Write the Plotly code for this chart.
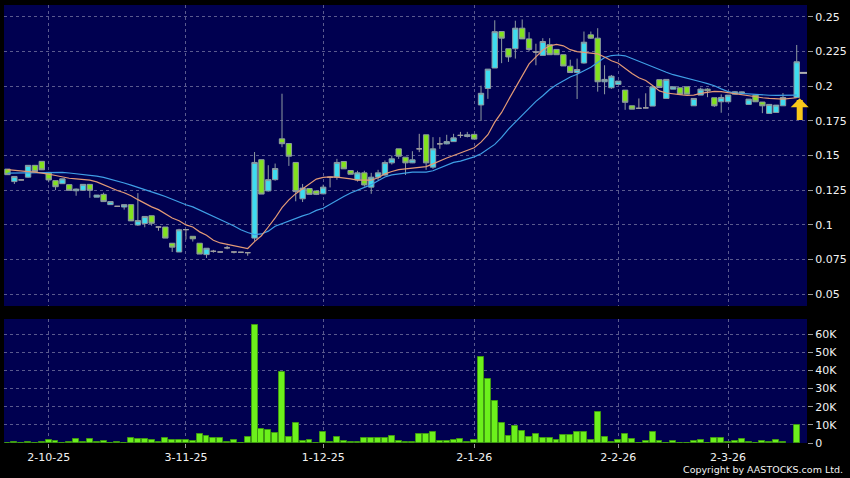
import plotly.graph_objects as go

# ---------------- data ----------------
opens = [0.1402, 0.1312, 0.1324, 0.1344, 0.1429, 0.1458, 0.1378, 0.1319, 0.1297, 0.1290,
         0.1246, 0.1249, 0.1292, 0.1200, 0.1220, 0.1146, 0.1134, 0.1129, 0.1146, 0.0999,
         0.1010, 0.1066, 0.0985, 0.0985, 0.0868, 0.0805, 0.0966, 0.0918, 0.0868, 0.0786,
         0.0810, 0.0805, 0.0835, 0.0805, 0.0803, 0.0800, 0.0905, 0.1470, 0.1245, 0.1326,
         0.1620, 0.1586, 0.1450, 0.1188, 0.1262, 0.1245, 0.1224, 0.1343, 0.1344, 0.1457,
         0.1392, 0.1324, 0.1375, 0.1272, 0.1344, 0.1359, 0.1447, 0.1548, 0.1488, 0.1447,
         0.1548, 0.1649, 0.1416, 0.1584, 0.1584, 0.1600, 0.1645, 0.1637, 0.1652, 0.1864,
         0.1983, 0.2130, 0.2393, 0.2269, 0.2269, 0.2417, 0.2340, 0.2245, 0.2221, 0.2298,
         0.2264, 0.2226, 0.2143, 0.2098, 0.2166, 0.2369, 0.2345, 0.2031, 0.1988, 0.2012,
         0.1971, 0.1858, 0.1840, 0.1843, 0.1856, 0.2046, 0.1911, 0.1978, 0.1988, 0.1995,
         0.1858, 0.1935, 0.1978, 0.1916, 0.1887, 0.1887, 0.1942, 0.1950, 0.1868, 0.1935,
         0.1885, 0.1803, 0.1810, 0.1858, None, 0.1918]
highs = [0.1402, 0.1349, 0.1326, 0.1429, 0.1432, 0.1458, 0.1382, 0.1319, 0.1332, 0.1290,
         0.1262, 0.1292, 0.1292, 0.1215, 0.1232, 0.1168, 0.1136, 0.1146, 0.1146, 0.1229,
         0.1061, 0.1066, 0.0988, 0.0985, 0.0868, 0.0972, 0.0968, 0.0918, 0.0868, 0.0832,
         0.0820, 0.0807, 0.0850, 0.0806, 0.0805, 0.0802, 0.1525, 0.1470, 0.1430, 0.1442,
         0.1945, 0.1586, 0.1450, 0.1295, 0.1265, 0.1245, 0.1290, 0.1345, 0.1476, 0.1457,
         0.1392, 0.1390, 0.1390, 0.1375, 0.1397, 0.1464, 0.1500, 0.1548, 0.1488, 0.1531,
         0.1656, 0.1649, 0.1632, 0.1632, 0.1649, 0.1656, 0.1670, 0.1670, 0.1655, 0.2003,
         0.2122, 0.2474, 0.2393, 0.2269, 0.2471, 0.2480, 0.2388, 0.2305, 0.2345, 0.2345,
         0.2264, 0.2226, 0.2190, 0.2198, 0.2393, 0.2393, 0.2417, 0.2150, 0.2080, 0.2036,
         0.1971, 0.1858, 0.1911, 0.1948, 0.1995, 0.2046, 0.2048, 0.1995, 0.1988, 0.1995,
         0.1911, 0.1988, 0.1985, 0.1916, 0.1940, 0.1935, 0.1963, 0.1960, 0.1906, 0.1935,
         0.1885, 0.1868, 0.1863, 0.1950, None, 0.2296]
lows = [0.1360, 0.1295, 0.1322, 0.1340, 0.1385, 0.1395, 0.1307, 0.1251, 0.1297, 0.1249,
        0.1210, 0.1249, 0.1195, 0.1200, 0.1168, 0.1146, 0.1132, 0.1110, 0.1029, 0.0993,
        0.0983, 0.0995, 0.0958, 0.0905, 0.0805, 0.0805, 0.0895, 0.0880, 0.0790, 0.0762,
        0.0800, 0.0803, 0.0825, 0.0795, 0.0801, 0.0778, 0.0885, 0.1222, 0.1240, 0.1318,
        0.1560, 0.1425, 0.1170, 0.1165, 0.1220, 0.1215, 0.1220, 0.1270, 0.1325, 0.1404,
        0.1365, 0.1312, 0.1276, 0.1224, 0.1324, 0.1355, 0.1435, 0.1476, 0.1360, 0.1445,
        0.1524, 0.1397, 0.1404, 0.1548, 0.1580, 0.1598, 0.1627, 0.1630, 0.1618, 0.1750,
        0.1908, 0.2130, 0.2165, 0.2174, 0.2198, 0.2340, 0.2250, 0.2150, 0.2221, 0.2226,
        0.2226, 0.2145, 0.2095, 0.1907, 0.2162, 0.2340, 0.1960, 0.1941, 0.1980, 0.2010,
        0.1829, 0.1834, 0.1838, 0.1840, 0.1856, 0.1990, 0.1911, 0.1978, 0.1942, 0.1942,
        0.1858, 0.1935, 0.1920, 0.1850, 0.1808, 0.1887, 0.1940, 0.1948, 0.1868, 0.1887,
        0.1805, 0.1803, 0.1810, 0.1858, None, 0.1918]
closes = [0.1362, 0.1349, 0.1324, 0.1429, 0.1385, 0.1397, 0.1324, 0.1275, 0.1332, 0.1249,
          0.1258, 0.1292, 0.1249, 0.1215, 0.1168, 0.1168, 0.1134, 0.1146, 0.1029, 0.1031,
          0.1061, 0.1012, 0.0985, 0.0905, 0.0840, 0.0965, 0.0966, 0.0900, 0.0790, 0.0832,
          0.0810, 0.0805, 0.0835, 0.0805, 0.0803, 0.0800, 0.1450, 0.1222, 0.1326, 0.1406,
          0.1585, 0.1495, 0.1240, 0.1265, 0.1220, 0.1220, 0.1272, 0.1343, 0.1450, 0.1404,
          0.1365, 0.1375, 0.1288, 0.1344, 0.1375, 0.1449, 0.1476, 0.1495, 0.1447, 0.1469,
          0.1548, 0.1447, 0.1548, 0.1584, 0.1600, 0.1627, 0.1645, 0.1649, 0.1618, 0.1948,
          0.2122, 0.2392, 0.2345, 0.2210, 0.2417, 0.2340, 0.2264, 0.2245, 0.2321, 0.2226,
          0.2226, 0.2145, 0.2098, 0.2119, 0.2316, 0.2345, 0.2031, 0.2048, 0.2071, 0.2036,
          0.1883, 0.1834, 0.1840, 0.1843, 0.1995, 0.1990, 0.2048, 0.1995, 0.1942, 0.1942,
          0.1911, 0.1978, 0.1966, 0.1858, 0.1918, 0.1935, 0.1959, 0.1957, 0.1906, 0.1887,
          0.1858, 0.1868, 0.1863, 0.1918, None, 0.2175]
volumes = [200, 500, 100, 500, 200, 500, 1800, 900, 100, 500,
           2200, 500, 2000, 500, 1300, 200, 500, 200, 2900, 2400,
           2400, 1500, 500, 2900, 1800, 1800, 1800, 1300, 5100, 3700,
           2700, 2900, 400, 1500, 100, 3100, 65000, 7900, 7000, 5300,
           39200, 3500, 11000, 1300, 1600, 200, 6000, 500, 3500, 1100,
           400, 400, 2700, 2600, 2600, 2700, 4000, 1100, 500, 500,
           4900, 4900, 6000, 1300, 900, 1800, 2400, 700, 1600, 47600,
           35400, 23300, 11000, 4000, 9200, 6400, 3300, 4900, 2900, 2600,
           1800, 4400, 4200, 6200, 5900, 1500, 17000, 3500, 400, 1800,
           4900, 2400, 100, 1100, 6000, 1100, 200, 1300, 200, 200,
           1300, 1600, 100, 2900, 2600, 500, 1300, 2000, 500, 200,
           1100, 700, 1800, 700, None, 9700]
ma_short = [0.1398, 0.1392, 0.1388, 0.1384, 0.1380, 0.1374, 0.1366, 0.1356, 0.1344, 0.1336,
            0.1332, 0.1329, 0.1322, 0.1310, 0.1290, 0.1266, 0.1248, 0.1232, 0.1210, 0.1182,
            0.1155, 0.1130, 0.1110, 0.1080, 0.1050, 0.1030, 0.1000, 0.0985, 0.0950, 0.0925,
            0.0890, 0.0870, 0.0860, 0.0850, 0.0842, 0.0830, 0.0880, 0.0922, 0.0985, 0.1050,
            0.1125, 0.1180, 0.1225, 0.1260, 0.1300, 0.1330, 0.1342, 0.1346, 0.1344, 0.1340,
            0.1332, 0.1322, 0.1320, 0.1322, 0.1340, 0.1368, 0.1385, 0.1398, 0.1404, 0.1408,
            0.1412, 0.1420, 0.1440, 0.1462, 0.1482, 0.1500, 0.1520, 0.1536, 0.1556, 0.1596,
            0.1650, 0.1740, 0.1810, 0.1900, 0.1990, 0.2080, 0.2160, 0.2210, 0.2260, 0.2290,
            0.2300, 0.2290, 0.2262, 0.2248, 0.2244, 0.2240, 0.2232, 0.2210, 0.2182, 0.2165,
            0.2125, 0.2090, 0.2060, 0.2040, 0.2005, 0.1965, 0.1950, 0.1942, 0.1938, 0.1932,
            0.1935, 0.1948, 0.1955, 0.1962, 0.1960, 0.1952, 0.1946, 0.1940, 0.1932, 0.1924,
            0.1916, 0.1911, 0.1908, 0.1906, None, 0.1916]
ma_long = [0.1373, 0.1374, 0.1375, 0.1377, 0.1378, 0.1379, 0.1380, 0.1380, 0.1378, 0.1374,
           0.1369, 0.1364, 0.1358, 0.1351, 0.1342, 0.1330, 0.1316, 0.1302, 0.1287, 0.1272,
           0.1255, 0.1237, 0.1222, 0.1205, 0.1185, 0.1164, 0.1145, 0.1130, 0.1108, 0.1085,
           0.1062, 0.1038, 0.1015, 0.0992, 0.0965, 0.0945, 0.0930, 0.0935, 0.0955, 0.0990,
           0.1010, 0.1030, 0.1045, 0.1065, 0.1080, 0.1105, 0.1120, 0.1150, 0.1180, 0.1205,
           0.1230, 0.1250, 0.1270, 0.1290, 0.1318, 0.1345, 0.1360, 0.1368, 0.1375, 0.1380,
           0.1380, 0.1380, 0.1390, 0.1410, 0.1430, 0.1450, 0.1460, 0.1476, 0.1490, 0.1512,
           0.1545, 0.1580, 0.1630, 0.1690, 0.1740, 0.1790, 0.1845, 0.1890, 0.1930, 0.1975,
           0.2010, 0.2040, 0.2065, 0.2085, 0.2110, 0.2135, 0.2170, 0.2205, 0.2220, 0.2224,
           0.2218, 0.2198, 0.2175, 0.2155, 0.2135, 0.2118, 0.2100, 0.2082, 0.2068, 0.2057,
           0.2045, 0.2031, 0.2018, 0.2002, 0.1980, 0.1960, 0.1950, 0.1946, 0.1941, 0.1938,
           0.1935, 0.1934, 0.1933, 0.1933, None, 0.1935]

date_tick_index = [6, 26, 46, 68, 89, 105]
date_tick_labels = ["2-10-25", "3-11-25", "1-12-25", "2-1-26", "2-2-26", "2-3-26"]
price_ticks = [0.05, 0.075, 0.1, 0.125, 0.15, 0.175, 0.2, 0.225, 0.25]
price_tick_labels = ["0.05", "0.075", "0.1", "0.125", "0.15", "0.175", "0.2", "0.225", "0.25"]
volume_ticks = [0, 10000, 20000, 30000, 40000, 50000, 60000]
volume_tick_labels = ["0", "10K", "20K", "30K", "40K", "50K", "60K"]
last_quote = 0.2095
signal_tip = 0.1912
signal_tail = 0.1744

# ---------------- styling ----------------
NAVY = "#000050"
CYAN = "#3edcf0"
GREEN = "#82e21e"
EDGE = "#8d9aa0"
DOJI = "#a0a0a0"
VOL = "#6cf01c"
VOL_EDGE = "#3f9a12"
GRID = "#5a5a8e"
FONT = dict(family="DejaVu Sans", size=11, color="#f2f2f2")

idx = list(range(len(closes)))


def pick(cond):
    xs, o, h, l, c = [], [], [], [], []
    for i in idx:
        if closes[i] is None:
            continue
        if cond(opens[i], closes[i]):
            xs.append(i)
            o.append(opens[i])
            h.append(highs[i])
            l.append(lows[i])
            c.append(closes[i])
    return xs, o, h, l, c


fig = go.Figure()

# moving averages (behind candles)
fig.add_trace(go.Scatter(x=idx, y=ma_long, mode="lines", connectgaps=True,
                         line=dict(color="#3f9fe6", width=1.2),
                         hoverinfo="skip", showlegend=False, xaxis="x", yaxis="y"))
fig.add_trace(go.Scatter(x=idx, y=ma_short, mode="lines", connectgaps=True,
                         line=dict(color="#e39a76", width=1.2),
                         hoverinfo="skip", showlegend=False, xaxis="x", yaxis="y"))

for cond, fill, edge in [
    (lambda o, c: c > o, CYAN, EDGE),
    (lambda o, c: c < o, GREEN, EDGE),
    (lambda o, c: c == o, DOJI, DOJI),
]:
    xs, o, h, l, c = pick(cond)
    fig.add_trace(go.Candlestick(
        x=xs, open=o, high=h, low=l, close=c,
        increasing=dict(fillcolor=fill, line=dict(color=edge, width=1)),
        decreasing=dict(fillcolor=fill, line=dict(color=edge, width=1)),
        whiskerwidth=0, hoverinfo="skip", showlegend=False,
        xaxis="x", yaxis="y"))

# last quote marker
fig.add_trace(go.Scatter(x=[len(closes)], y=[last_quote], mode="markers",
                         marker=dict(symbol="line-ew", size=6,
                                     line=dict(color="#b0b0b0", width=2)),
                         hoverinfo="skip", showlegend=False, xaxis="x", yaxis="y"))

# volume
fig.add_trace(go.Bar(x=idx, y=volumes, width=0.86,
                     marker=dict(color=VOL, line=dict(color=VOL_EDGE, width=1)),
                     hoverinfo="skip", showlegend=False, xaxis="x2", yaxis="y2"))

xr = [-0.51, 116.5]
common_x = dict(range=xr, tickmode="array", tickvals=date_tick_index,
                showgrid=True, gridcolor=GRID, griddash="3px,3px", gridwidth=1,
                zeroline=False, showline=False, fixedrange=True)

fig.update_layout(
    width=850, height=478,
    margin=dict(l=4, r=43, t=5, b=35),
    paper_bgcolor="black", plot_bgcolor=NAVY,
    font=FONT, boxgap=0.22, boxgroupgap=0, bargap=0,
    xaxis=dict(common_x, anchor="y", showticklabels=False, ticks="",
               rangeslider=dict(visible=False)),
    xaxis2=dict(common_x, anchor="y2", ticktext=date_tick_labels,
                showticklabels=True, ticks="outside", ticklen=4, tickcolor="#9a9a9a",
                tickfont=FONT, matches="x"),
    yaxis=dict(domain=[0.3128, 1.0], range=[0.0416, 0.2584], side="right",
               tickmode="array", tickvals=price_ticks, ticktext=price_tick_labels,
               showgrid=True, gridcolor=GRID, griddash="3px,3px", zeroline=False,
               ticks="outside", ticklen=5, tickcolor="#9a9a9a", tickfont=FONT,
               anchor="x", fixedrange=True),
    yaxis2=dict(domain=[0.0, 0.2831], range=[0, 68300], side="right",
                tickmode="array", tickvals=volume_ticks, ticktext=volume_tick_labels,
                showgrid=True, gridcolor=GRID, griddash="3px,3px", zeroline=False,
                ticks="outside", ticklen=5, tickcolor="#9a9a9a", tickfont=FONT,
                anchor="x2", fixedrange=True),
    annotations=[
        dict(x=len(closes) - 1, y=signal_tip, ax=len(closes) - 1, ay=signal_tail,
             xref="x", yref="y", axref="x", ayref="y", text="", showarrow=True,
             arrowhead=1, arrowsize=0.5, arrowwidth=6, arrowcolor="#f8c81a",
             standoff=0, xshift=3),
        dict(x=1.0473, y=-0.0616, xref="paper", yref="paper", xanchor="right",
             yanchor="middle", text="Copyright by AASTOCKS.com Ltd.", showarrow=False,
             font=dict(family="DejaVu Sans", size=9.5, color="#f2f2f2")),
    ],
)

fig.write_html("out.html", config={"displayModeBar": False},
               post_script="document.body.style.margin='0';document.body.style.background='black';")
